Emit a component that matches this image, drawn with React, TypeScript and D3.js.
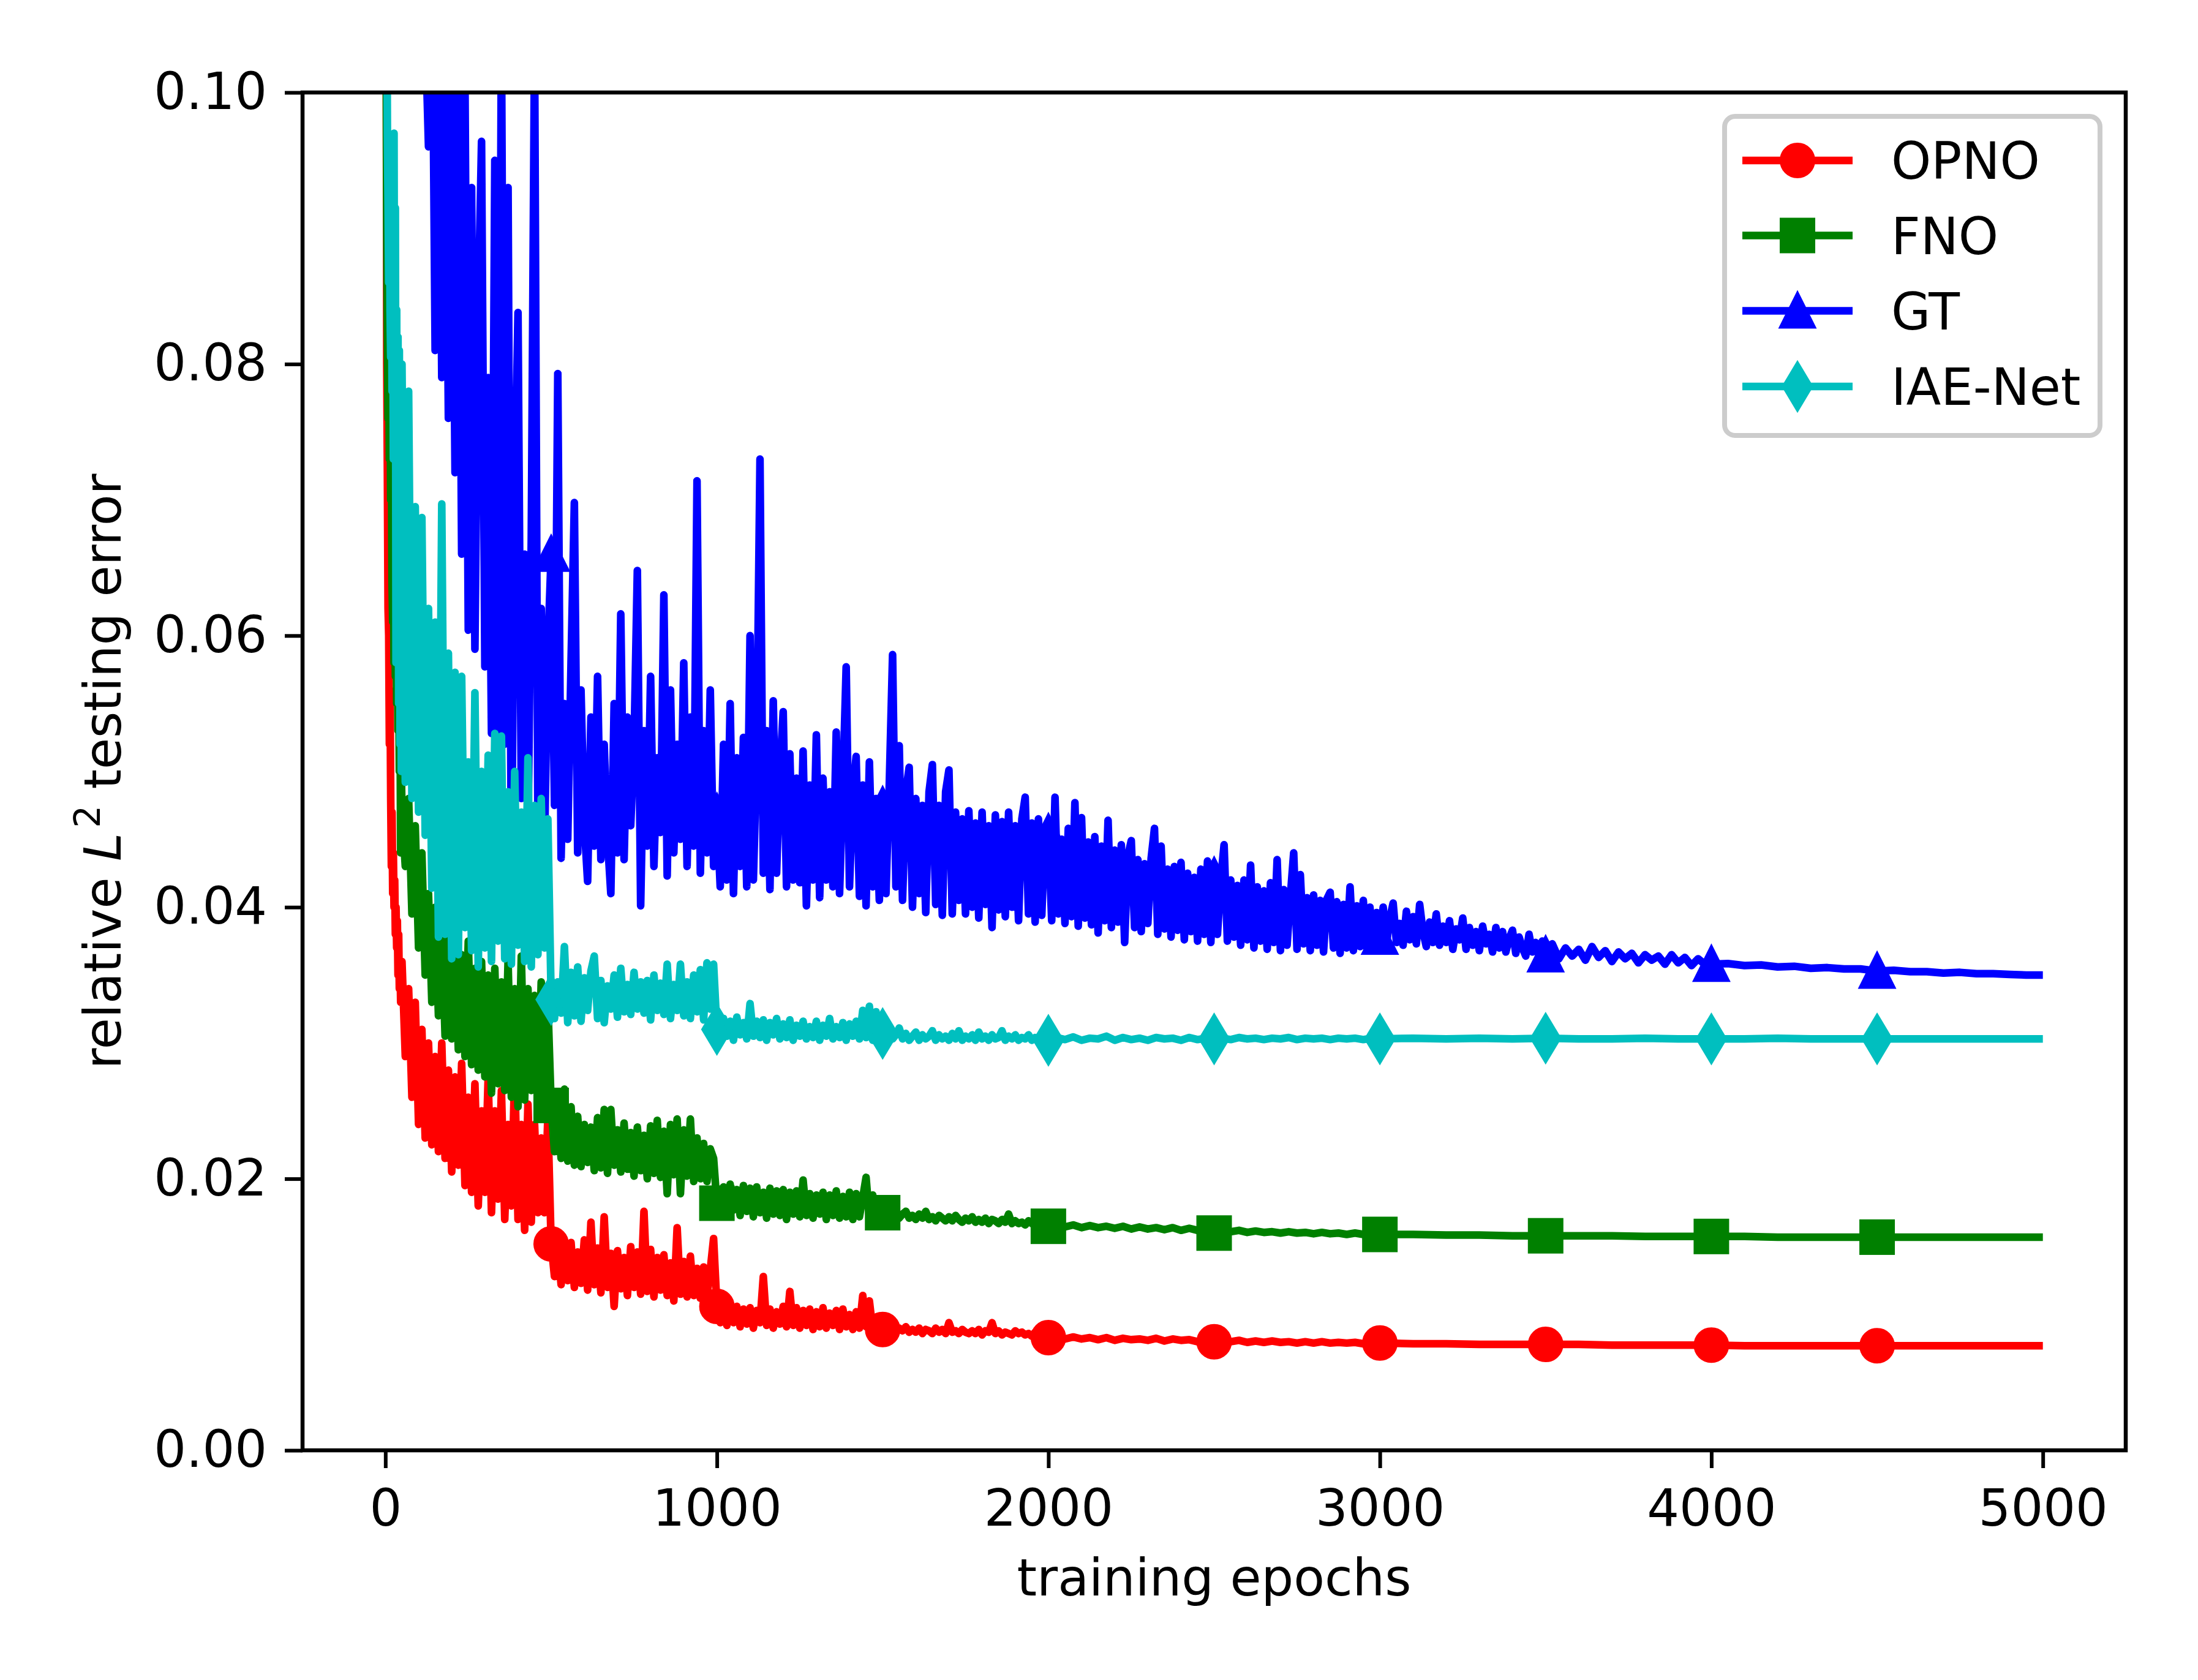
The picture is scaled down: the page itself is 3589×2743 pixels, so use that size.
import { useEffect, useRef } from "react";
import * as d3 from "d3";

// all error values below are in units of 1e-3 (relative L2 testing error)
// segment grids: A = 0..48 step 2, B = 50..490 step 10, C = 500..990 step 10,
// D = 1000..1490 step 10, E = 1500..1990 step 10, F = 2000..2975 step 25, G = 3000..5000 step 100

const opnoA = [150, 120, 80, 72, 62, 60, 52, 56, 48, 43, 47, 41, 44, 40, 42, 38, 40, 37, 39, 35, 38, 34, 36, 33, 35];
const opnoB = [36, 29, 34, 26, 33, 24, 31, 23, 30, 22.5, 29, 22, 30, 21.5, 28, 20.5, 27.5, 21, 28.5, 19.5, 26, 19, 27, 18, 25, 19, 27.5, 17.5, 25, 18.5, 26.5, 17, 24, 18, 28, 17, 24, 16.2, 25.5, 16.8, 24, 17.5, 23, 17.5, 24.5];
const opnoC = [15.2, 12.8, 15.0, 12.2, 14.8, 12.5, 15.3, 12.0, 14.6, 12.3,
  15.5, 11.8, 16.8, 12.2, 14.9, 11.6, 17.2, 12.0, 14.5, 10.6,
  14.7, 11.9, 14.2, 11.4, 15.0, 12.0, 14.6, 11.5, 17.6, 11.7,
  14.8, 11.3, 14.2, 11.8, 14.4, 11.4, 13.8, 11.0, 16.4, 11.5,
  13.9, 11.3, 14.3, 11.4, 13.4, 11.2, 13.5, 11.4, 13.3, 15.6];
const opnoD = [10.6, 9.4, 10.7, 9.2, 10.5, 9.4, 10.6, 9.1, 10.4, 9.3,
  10.5, 9.0, 10.3, 9.4, 12.8, 9.2, 10.4, 9.0, 10.2, 9.3,
  10.6, 9.1, 11.7, 9.2, 10.5, 9.0, 10.3, 9.2, 10.4, 8.9,
  10.2, 9.1, 10.5, 9.0, 10.1, 9.2, 10.3, 8.9, 10.4, 9.1,
  10.0, 8.9, 10.2, 9.0, 11.4, 9.1, 11.0, 8.9, 9.8, 9.0];
const opnoE = [8.9, 9.1, 8.8, 9.2, 8.7, 9.0, 8.8, 9.1, 8.7, 8.9,
  8.7, 9.0, 8.6, 8.9, 8.8, 8.6, 9.0, 8.7, 8.9, 8.6,
  9.4, 8.7, 8.8, 8.6, 8.9, 8.7, 8.6, 8.8, 8.6, 8.9,
  8.5, 8.8, 8.7, 9.4, 8.6, 8.8, 8.5, 8.7, 8.6, 8.5,
  8.8, 8.6, 8.7, 8.5, 8.6, 8.4, 8.7, 8.5, 8.6, 8.4];
const opnoF = [8.3, 8.4, 8.2, 8.35, 8.2, 8.3, 8.15, 8.3, 8.1, 8.25,
  8.15, 8.2, 8.1, 8.25, 8.05, 8.2, 8.1, 8.15, 8.0, 8.15,
  8.0, 8.1, 8.0, 8.1, 7.95, 8.05, 7.95, 8.05, 7.95, 8.0,
  7.9, 8.0, 7.9, 8.0, 7.9, 7.95, 7.9, 7.95, 7.85, 7.95];
const opnoG = [7.9, 7.85, 7.85, 7.8, 7.8, 7.8, 7.8, 7.75, 7.75, 7.75, 7.75, 7.7, 7.7, 7.7, 7.7, 7.7, 7.7, 7.7, 7.7, 7.7, 7.7];

const fnoA = [150, 110, 90, 82, 76, 80, 73, 78, 70, 74, 64, 61, 66, 58, 63, 57, 62, 55, 60, 53, 58, 50, 55, 44, 50];
const fnoB = [47, 43, 48, 39.5, 46, 37, 44, 35, 41, 33, 40, 32, 38.5, 30.5, 38, 30.3, 37, 29.5, 36.5, 29, 37.5, 28.4, 35.5, 28, 36, 27.5, 35, 26.3, 35.5, 27, 34.5, 26.5, 36, 26, 34, 25.3, 36.4, 25.8, 34, 26.5, 33.5, 25.5, 34.5, 26, 33];
const fnoC = [25.4, 22.0, 24.8, 21.5, 26.6, 21.3, 25.3, 21.0, 24.6, 20.9,
  24.0, 21.2, 23.8, 20.6, 24.5, 20.8, 25.1, 20.4, 25.1, 21.0,
  23.6, 20.5, 24.1, 20.7, 23.4, 20.2, 23.8, 20.6, 23.2, 20.0,
  23.9, 20.4, 24.3, 20.1, 23.5, 18.9, 24.0, 20.3, 24.4, 18.9,
  23.6, 20.2, 24.4, 19.8, 23.0, 20.0, 22.6, 19.8, 22.2, 21.5];
const fnoD = [18.2, 17.6, 19.4, 17.5, 19.6, 17.7, 19.2, 17.3, 19.5, 17.6,
  19.3, 17.2, 19.4, 17.5, 19.0, 17.1, 19.3, 17.4, 19.1, 17.3,
  19.2, 17.0, 19.0, 17.4, 19.1, 17.2, 19.9, 17.3, 18.9, 17.1,
  18.8, 17.4, 19.0, 17.0, 18.8, 17.3, 19.1, 17.1, 18.7, 17.2,
  19.0, 17.0, 18.9, 17.2, 18.6, 20.1, 17.1, 18.8, 17.0, 18.4];
const fnoE = [17.5, 17.3, 17.7, 17.2, 17.5, 17.1, 17.4, 17.6, 17.1, 17.3,
  17.0, 17.4, 17.1, 17.6, 17.0, 17.2, 16.9, 17.3, 17.1, 16.9,
  17.2, 16.9, 17.3, 17.0, 16.8, 17.1, 16.9, 17.2, 16.8, 17.0,
  16.8, 17.1, 16.7, 17.0, 16.9, 16.7, 17.0, 16.8, 17.4, 16.7,
  16.9, 16.7, 16.8, 16.6, 16.9, 16.7, 16.6, 16.8, 16.6, 16.7];
const fnoF = [16.5, 16.6, 16.45, 16.6, 16.4, 16.55, 16.4, 16.5, 16.35, 16.5,
  16.3, 16.45, 16.3, 16.4, 16.25, 16.4, 16.2, 16.35, 16.2, 16.3,
  16.0, 16.2, 16.1, 16.2, 16.05, 16.15, 16.05, 16.1, 16.0, 16.1,
  16.0, 16.05, 15.95, 16.05, 15.95, 16.0, 15.9, 16.0, 15.9, 15.95];
const fnoG = [15.9, 15.9, 15.85, 15.85, 15.8, 15.8, 15.8, 15.8, 15.75, 15.75, 15.75, 15.75, 15.7, 15.7, 15.7, 15.7, 15.7, 15.7, 15.7, 15.7, 15.7];

// GT grids: A, B, C as above, D = 1000..1990 step 10, E = 2000..2990 step 10,
// F = 3000..3490 step 10, G = 3500..3980 step 20, H = 4000..5000 step 50
const gtA = [300, 250, 220, 200, 180, 170, 160, 150, 145, 140, 135, 130, 128, 125, 122, 120, 118, 116, 115, 113, 112, 110, 110, 108, 106];
const gtB = [130, 125, 120, 118, 115, 112, 108, 105, 96, 112, 81, 108, 79, 104, 76, 102, 72, 104, 66, 101, 60.4, 93, 59, 84, 96.4, 57.7, 79, 52.8, 95, 48.7, 105, 52, 93, 41.9, 70, 83.8, 48, 66, 45, 67, 104, 46, 62, 44.5, 59];
const gtC = [66, 47.5, 79.3, 43.6, 55, 45, 58, 69.8, 44, 56,
  46, 41.9, 54, 44.5, 57, 43.5, 52, 45, 41, 55,
  44, 61.6, 43.5, 54, 46, 52, 64.8, 40.1, 53, 44.5,
  57, 43, 51, 45.5, 63, 42.3, 56, 44, 52, 45,
  58, 43, 54, 44.5, 71.4, 42.5, 53, 44, 56, 43];
const gtD = [47, 41.5, 52, 42, 55, 41, 51, 43, 52.5, 41.5,
  60, 42, 51, 73, 42.5, 53, 41.3, 55.2, 42.5, 50,
  54.4, 41.5, 51.3, 42, 49.5, 41.8, 51.5, 40.1, 49, 42,
  52.7, 40.7, 49.5, 42, 48.5, 41.5, 52.9, 41, 49, 57.7,
  41.5, 48.5, 51.1, 40.8, 49, 40.1, 50.7, 41.5, 48, 40.5,
  47.5, 41, 49, 58.6, 41.5, 51.9, 40.5, 48.5, 50.3, 40,
  48, 41, 47.5, 39.6, 48.5, 50.5, 40.2, 47.5, 39.4, 48.5,
  50.1, 39.5, 47, 40.5, 46.5, 39.5, 47.1, 40, 46.2, 39.2,
  47, 40.2, 46, 38.5, 46.8, 39.8, 46.3, 39.3, 47, 40,
  46, 39, 46.5, 48.1, 39.5, 46.2, 38.9, 46.5, 39.4, 45.8];
const gtE = [45.5, 39, 48.1, 39.5, 45, 38.8, 45.8, 39.3, 47.7, 38.6,
  46.6, 39.2, 44.8, 38.7, 45.2, 38.1, 44.5, 39, 46.4, 38.5,
  44.2, 38.9, 44.6, 37.4, 43.8, 44.9, 38.5, 43.5, 38.2, 43.2,
  38.8, 43.6, 45.8, 38, 44.5, 38.4, 42.8, 37.8, 43, 38.3,
  43.3, 37.6, 42.5, 38.2, 42.2, 37.5, 42.8, 38, 43.4, 37.4,
  42.3, 38, 42, 44.6, 37.5, 42, 37.8, 41.6, 37.2, 42,
  37.6, 43.1, 37, 41.5, 37.5, 41.2, 36.9, 41.8, 37.4, 43.5,
  36.8, 41.3, 37.2, 40.8, 44, 36.9, 42.4, 37.3, 40.7, 36.8,
  40.9, 37.2, 40.5, 36.7, 40.6, 41.1, 37, 40.4, 36.6, 40.2,
  37, 41.5, 36.8, 40.1, 37.1, 40.5, 37, 40, 37.2, 39.6];
const gtF = [37.8, 40.0, 37.3, 39.2, 40.3, 37.4, 38.8, 37.2, 39.7, 37.6,
  39.3, 37.3, 40.2, 38.2, 37.1, 38.9, 37.4, 39.5, 37.2, 38.6,
  37.4, 39.0, 36.9, 38.4, 37.6, 39.2, 36.9, 38.5, 37.2, 38.2,
  36.8, 38.6, 37.3, 38.0, 36.7, 38.5, 37.0, 38.2, 36.7, 37.7,
  38.3, 36.6, 37.8, 37.0, 36.4, 38.0, 36.7, 37.4, 36.4, 37.5];
const gtG = [36.5, 37.3, 36.2, 37.0, 36.4, 36.9, 36.1, 37.1, 36.3, 36.8,
  36.0, 36.7, 36.2, 36.6, 35.9, 36.5, 36.1, 36.4, 35.8, 36.5,
  35.9, 36.3, 35.7, 36.2, 35.8];
const gtH = [35.8, 35.85, 35.7, 35.75, 35.6, 35.65, 35.5, 35.55, 35.45, 35.45, 35.3, 35.35, 35.25, 35.25, 35.15, 35.2, 35.1, 35.1, 35.05, 35.0, 35.0];

const iaeA = [150, 130, 110, 97, 92, 86, 95, 84, 80.5, 92, 78, 88, 73, 97, 73, 91.5, 58, 84, 60, 82, 55, 81, 52, 79, 50];
const iaeB = [80, 49.2, 78, 48, 69.5, 47, 68.7, 45.3, 62, 41.4, 61, 37.8, 69.7, 38, 58.7, 36.2, 57.3, 36.5, 57, 38.5, 50.7, 36.8, 55.8, 35.6, 50, 37, 51.2, 36, 52.8, 37.5, 52.6, 36.2, 48.5, 35.8, 50, 37.2, 47, 36, 51, 35.6, 47.5, 36.5, 48, 37, 46.5];
const iaeC = [33.2, 31.8, 34.5, 32.2, 37.1, 31.5, 35.2, 32, 35.6, 31.6,
  34.8, 32.4, 35.3, 36.4, 31.8, 34.6, 31.5, 34.2, 32.5, 35.0,
  31.9, 35.5, 32.3, 34.3, 32.1, 35.2, 32.5, 34.5, 32.2, 34.6,
  31.7, 35.0, 32.4, 34.4, 32.1, 35.8, 31.8, 34.3, 32.4, 35.8,
  32.0, 34.5, 31.8, 35.0, 32.3, 35.4, 31.7, 35.9, 32.5, 35.8];
const iaeD = [31.0, 30.3, 31.8, 30.5, 31.6, 30.2, 31.9, 30.6, 31.5, 30.3,
  32.9, 30.5, 31.6, 30.4, 31.7, 30.2, 31.5, 30.6, 31.8, 30.3,
  31.4, 30.4, 31.7, 30.2, 31.3, 30.5, 31.6, 30.3, 31.2, 30.4,
  31.6, 30.2, 31.3, 30.5, 31.8, 30.3, 31.2, 30.4, 31.5, 30.2,
  31.4, 30.5, 31.6, 30.3, 32.4, 30.4, 32.7, 30.2, 32.3, 30.6];
const iaeE = [30.7, 30.4, 30.9, 30.3, 30.6, 31.1, 30.3, 30.7, 30.2, 30.5,
  30.8, 30.2, 30.6, 30.3, 30.5, 30.9, 30.2, 30.6, 30.3, 30.5,
  30.2, 30.7, 30.3, 30.9, 30.2, 30.5, 30.3, 30.6, 30.2, 30.8,
  30.3, 30.5, 30.2, 30.6, 30.3, 30.4, 30.9, 30.2, 30.5, 30.3,
  30.6, 30.2, 30.4, 30.3, 30.6, 30.2, 30.4, 30.3, 30.5, 30.2];
const iaeF = [30.2, 30.4, 30.25, 30.45, 30.2, 30.35, 30.3, 30.5, 30.2, 30.4,
  30.25, 30.35, 30.2, 30.4, 30.3, 30.35, 30.2, 30.4, 30.25, 30.35,
  30.3, 30.35, 30.25, 30.4, 30.3, 30.35, 30.25, 30.35, 30.3, 30.4,
  30.25, 30.35, 30.3, 30.35, 30.25, 30.35, 30.3, 30.35, 30.25, 30.35];
const iaeG = [30.3, 30.35, 30.3, 30.35, 30.3, 30.35, 30.3, 30.3, 30.35, 30.3, 30.3, 30.3, 30.35, 30.3, 30.3, 30.3, 30.3, 30.3, 30.3, 30.3, 30.3];

const seriesNames = ["OPNO", "FNO", "GT", "IAE-Net"];
const markerEpochs = [0, 500, 1000, 1500, 2000, 2500, 3000, 3500, 4000, 4500];
const xTickValues = [0, 1000, 2000, 3000, 4000, 5000];
const yTickValues = [0, 0.02, 0.04, 0.06, 0.08, 0.1];

type Seg = { start: number; step: number; values: number[] };

const stdGrid = (a: number[], b: number[], c: number[], d: number[], e: number[], f: number[], g: number[]): Seg[] => [
  { start: 0, step: 2, values: a },
  { start: 50, step: 10, values: b },
  { start: 500, step: 10, values: c },
  { start: 1000, step: 10, values: d },
  { start: 1500, step: 10, values: e },
  { start: 2000, step: 25, values: f },
  { start: 3000, step: 100, values: g },
];

const series = [
  { name: seriesNames[0], color: "#ff0000", marker: "circle", segs: stdGrid(opnoA, opnoB, opnoC, opnoD, opnoE, opnoF, opnoG) },
  { name: seriesNames[1], color: "#008000", marker: "square", segs: stdGrid(fnoA, fnoB, fnoC, fnoD, fnoE, fnoF, fnoG) },
  {
    name: seriesNames[2], color: "#0000ff", marker: "triangle", segs: [
      { start: 0, step: 2, values: gtA },
      { start: 50, step: 10, values: gtB },
      { start: 500, step: 10, values: gtC },
      { start: 1000, step: 10, values: gtD },
      { start: 2000, step: 10, values: gtE },
      { start: 3000, step: 10, values: gtF },
      { start: 3500, step: 20, values: gtG },
      { start: 4000, step: 50, values: gtH },
    ],
  },
  { name: seriesNames[3], color: "#00bfbf", marker: "diamond", segs: stdGrid(iaeA, iaeB, iaeC, iaeD, iaeE, iaeF, iaeG) },
];

const FONT = "DejaVu Sans";

function toPoints(segs: Seg[]): [number, number][] {
  const pts: [number, number][] = [];
  segs.forEach((s) => s.values.forEach((v, i) => pts.push([s.start + i * s.step, v / 1000])));
  return pts;
}

function drawMarker(g: any, kind: string, cx: number, cy: number, color: string) {
  const common = (sel: any) =>
    sel.attr("fill", color).attr("stroke", color).attr("stroke-width", 8).attr("stroke-linejoin", "miter");
  if (kind === "circle") {
    g.append("circle").attr("cx", cx).attr("cy", cy).attr("r", 25).call(common);
  } else if (kind === "square") {
    g.append("rect").attr("x", cx - 25).attr("y", cy - 25).attr("width", 50).attr("height", 50).call(common);
  } else if (kind === "triangle") {
    g.append("path").attr("d", `M${cx},${cy - 25}L${cx - 25},${cy + 25}L${cx + 25},${cy + 25}Z`).call(common);
  } else {
    g.append("path").attr("d", `M${cx},${cy - 35.4}L${cx + 21.2},${cy}L${cx},${cy + 35.4}L${cx - 21.2},${cy}Z`).call(common);
  }
}

export default function App() {
  const svgRef = useRef<SVGSVGElement | null>(null);

  useEffect(() => {
    document.body.style.margin = "0";
    const width = 3589;
    const height = 2743;
    const left = 494, right = 3471, top = 151, bottom = 2368;

    const svg = d3.select(svgRef.current);
    svg.selectAll("*").remove();
    svg.attr("width", width).attr("height", height);
    svg.append("rect").attr("width", width).attr("height", height).attr("fill", "#fff");

    const x = d3.scaleLinear().domain([-250, 5250]).range([left, right]);
    const y = d3.scaleLinear().domain([0, 0.1]).range([bottom, top]);

    svg.append("defs").append("clipPath").attr("id", "plot-clip")
      .append("rect").attr("x", left).attr("y", top).attr("width", right - left).attr("height", bottom - top);

    const plot = svg.append("g").attr("clip-path", "url(#plot-clip)");
    const line = d3.line<[number, number]>().x((d) => x(d[0])).y((d) => y(d[1]));

    series.forEach((s) => {
      const pts = toPoints(s.segs);
      plot.append("path").datum(pts).attr("d", line)
        .attr("fill", "none").attr("stroke", s.color).attr("stroke-width", 12.5)
        .attr("stroke-linejoin", "round");
      const lookup = new Map(pts);
      markerEpochs.forEach((e) => {
        const v = lookup.get(e);
        if (v !== undefined) drawMarker(plot, s.marker, x(e), y(v), s.color);
      });
    });

    // axes
    const xAxis = svg.append("g").attr("transform", `translate(0,${bottom})`)
      .call(d3.axisBottom(x).tickValues(xTickValues).tickSize(29).tickPadding(35).tickFormat(d3.format("d")));
    const yAxis = svg.append("g").attr("transform", `translate(${left},0)`)
      .call(d3.axisLeft(y).tickValues(yTickValues).tickSize(29).tickPadding(29).tickFormat(d3.format(".2f")));
    [xAxis, yAxis].forEach((a) => {
      a.select(".domain").remove();
      a.attr("font-family", FONT).attr("font-size", 83);
      a.selectAll(".tick line").attr("stroke", "#000").attr("stroke-width", 6);
      a.selectAll(".tick text").attr("fill", "#000");
    });

    // spines
    svg.append("rect").attr("x", left).attr("y", top).attr("width", right - left).attr("height", bottom - top)
      .attr("fill", "none").attr("stroke", "#000").attr("stroke-width", 6.5);

    svg.append("text").attr("x", (left + right) / 2).attr("y", 2605)
      .attr("text-anchor", "middle").attr("font-family", FONT).attr("font-size", 83)
      .text("training epochs");

    const yl = svg.append("text").attr("transform", `translate(197,${(top + bottom) / 2}) rotate(-90)`)
      .attr("text-anchor", "middle").attr("font-family", FONT).attr("font-size", 83);
    yl.append("tspan").text("relative ");
    yl.append("tspan").attr("font-style", "italic").text("L");
    yl.append("tspan").attr("font-size", 58).attr("dx", 8).attr("dy", -34).text("2");
    yl.append("tspan").attr("dy", 34).text("\u00a0testing error");

    // legend
    const lg = svg.append("g");
    lg.append("rect").attr("x", 2816).attr("y", 190).attr("width", 613).attr("height", 521).attr("rx", 17)
      .attr("fill", "#fff").attr("fill-opacity", 0.8).attr("stroke", "#cccccc").attr("stroke-width", 8);
    const rows = [262, 384.5, 507.5, 631];
    series.forEach((s, i) => {
      const ry = rows[i];
      lg.append("line").attr("x1", 2845).attr("x2", 3025).attr("y1", ry).attr("y2", ry)
        .attr("stroke", s.color).attr("stroke-width", 12.5);
      drawMarker(lg, s.marker, 2935, ry, s.color);
      lg.append("text").attr("x", 3088).attr("y", ry + 30).attr("font-family", FONT).attr("font-size", 83)
        .text(s.name);
    });
  }, []);

  return <svg ref={svgRef} style={{ display: "block" }}></svg>;
}
